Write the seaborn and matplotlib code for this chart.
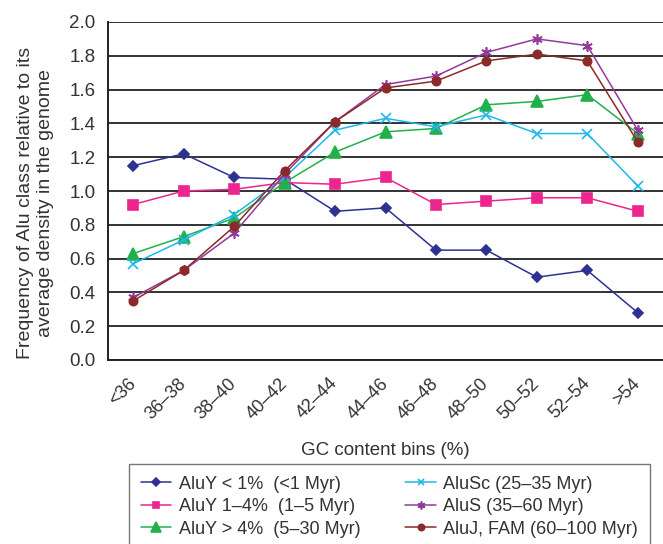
import numpy as np
import pandas as pd
import matplotlib
matplotlib.use("Agg")
import matplotlib.pyplot as plt
import seaborn as sns

bins = ["<36", "36–38", "38–40", "40–42", "42–44", "44–46", "46–48", "48–50", "50–52", "52–54", ">54"]
aluy_lt1 = [1.15, 1.22, 1.08, 1.07, 0.88, 0.90, 0.65, 0.65, 0.49, 0.53, 0.28]
aluy_1_4 = [0.92, 1.00, 1.01, 1.05, 1.04, 1.08, 0.92, 0.94, 0.96, 0.96, 0.88]
aluy_gt4 = [0.63, 0.73, 0.84, 1.05, 1.23, 1.35, 1.37, 1.51, 1.53, 1.57, 1.34]
alusc = [0.57, 0.71, 0.86, 1.08, 1.36, 1.43, 1.38, 1.45, 1.34, 1.34, 1.03]
alus = [0.37, 0.53, 0.75, 1.10, 1.41, 1.63, 1.68, 1.82, 1.90, 1.86, 1.36]
aluj = [0.35, 0.53, 0.79, 1.12, 1.41, 1.61, 1.65, 1.77, 1.81, 1.77, 1.29]

labels = ["AluY < 1%  (<1 Myr)", "AluY 1–4%  (1–5 Myr)", "AluY > 4%  (5–30 Myr)",
          "AluSc (25–35 Myr)", "AluS (35–60 Myr)", "AluJ, FAM (60–100 Myr)"]
series = [aluy_lt1, aluy_1_4, aluy_gt4, alusc, alus, aluj]
colors = ["#2E3192", "#EC258F", "#22B04B", "#1EB8EA", "#93399B", "#8C2A2A"]
markers = ["D", "s", "^", "x", (6, 2, 0), "o"]
msizes = [5.5, 6.5, 9, 6.5, 7.5, 6]

sns.set_style("white")
plt.rcParams["font.family"] = ["Liberation Sans", "DejaVu Sans"]
txt = "#333333"

fig = plt.figure(figsize=(6.63, 5.44), dpi=100)
# axis right edge runs past the image edge in the reference
ax = fig.add_axes([108 / 663, 1 - 360 / 544, 1 - 108 / 663, (360 - 22) / 544])

pos = np.arange(len(bins))
for vals, lab, c, m, ms in zip(series, labels, colors, markers, msizes):
    sns.lineplot(x=pos, y=vals, ax=ax, color=c, marker=m, markersize=ms,
                 markeredgecolor=c, markeredgewidth=1.2, linewidth=1.1, label=lab)

ax.set_ylim(0, 2.0)
ax.set_xlim(-0.5, (663 - 108) / 50.8 - 0.5)
yt = np.arange(0, 2.01, 0.2)
ax.set_yticks(yt)
ax.set_yticklabels([f"{v:.1f}" for v in yt], fontsize=13.5, color=txt)
ax.yaxis.grid(True, color="#222222", linewidth=1.3)
ax.set_axisbelow(True)
ax.set_xticks(pos)
ax.set_xticklabels(bins, rotation=45, ha="right", va="center",
                   rotation_mode="anchor", fontsize=13, color=txt)
ax.tick_params(axis="x", which="major", length=0, pad=15)
ax.set_xticks(np.arange(-0.5, len(bins), 1), minor=True)
ax.tick_params(axis="x", which="minor", length=6.5, color="#222222", width=1.2, direction="out")
ax.tick_params(axis="y", length=6, color="#222222", width=1.2, direction="out", pad=3)
for s in ["top", "right"]:
    ax.spines[s].set_visible(False)
for s in ["left", "bottom"]:
    ax.spines[s].set_color("#222222")
    ax.spines[s].set_linewidth(1.4)

ax.set_xlabel("GC content bins (%)", fontsize=13.5, color=txt, labelpad=14)
ax.set_ylabel("Frequency of Alu class relative to its\naverage density in the genome",
              fontsize=14, color=txt, linespacing=1.25)
ax.yaxis.set_label_coords(-0.097, 0.464)

leg = ax.legend(loc="upper left", bbox_to_anchor=(129 / 663, 1 - 464 / 544),
                bbox_transform=fig.transFigure, ncol=2, fontsize=13, frameon=True,
                fancybox=False, edgecolor="#555555", handlelength=1.7,
                handletextpad=0.4, columnspacing=2.5, labelspacing=0.3,
                borderpad=0.65, borderaxespad=0, markerscale=0.75)
leg.get_frame().set_linewidth(1.0)
for t in leg.get_texts():
    t.set_color(txt)

fig.savefig("out.png", dpi=100)
